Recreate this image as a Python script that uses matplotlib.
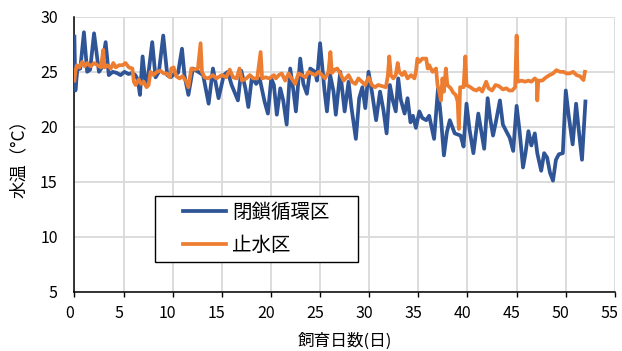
import matplotlib
matplotlib.use("Agg")
import matplotlib.pyplot as plt
from matplotlib.patches import Rectangle
from matplotlib.transforms import ScaledTranslation

plt.rcParams['font.family'] = ['Noto Sans CJK JP', 'DejaVu Sans']

# 閉鎖循環区: rearing day and water temperature (°C)
closed_days = [0.0, 0.1, 0.3, 0.6, 0.97, 1.3, 1.6, 2.0, 2.5, 2.8, 3.18, 3.5, 3.9, 4.3, 4.7,
               5.1, 5.5, 5.9, 6.2, 6.45, 6.67, 6.94, 7.25, 7.5, 7.92, 8.26, 8.6, 9.04, 9.45,
               9.8, 10.2, 10.55, 10.95, 11.2, 11.6, 12.06, 12.6, 13.1, 13.66, 14.1, 14.67,
               15.2, 15.6, 16.0, 16.64, 16.98, 17.4, 17.7, 18.06, 18.5, 18.85, 19.35, 19.69,
               20.03, 20.3, 20.6, 20.95, 21.25, 21.6, 21.96, 22.3, 22.54, 22.98, 23.3, 23.66,
               24.0, 24.5, 24.68, 25.0, 25.46, 25.7, 26.03, 26.37, 26.6, 27.05, 27.5, 27.9,
               28.2, 28.64, 28.98, 29.3, 29.6, 29.93, 30.27, 30.7, 31.1, 31.45, 31.77, 32.1,
               32.4, 32.7, 32.95, 33.2, 33.6, 33.9, 34.2, 34.45, 34.75, 35.1, 35.4, 35.8,
               36.1, 36.6, 37.0, 37.3, 37.6, 37.9, 38.2, 38.7, 39.0, 39.3, 39.6, 39.9, 40.2,
               40.6, 41.1, 41.4, 41.7, 42.05, 42.3, 42.6, 42.9, 43.3, 43.6, 44.0, 44.3,
               44.65, 45.0, 45.3, 45.65, 45.9, 46.2, 46.5, 46.85, 47.1, 47.5, 47.8, 48.1,
               48.4, 48.7, 49.0, 49.3, 49.7, 50.0, 50.3, 50.7, 51.05, 51.3, 51.65, 52.0]
closed_temp = [28.2, 23.3, 25.2, 25.3, 28.6, 25.0, 25.2, 28.5, 25.0, 25.4, 27.7, 24.7, 25.0, 24.9, 24.7,
               25.0, 24.8, 24.9, 24.7, 24.3, 22.9, 26.4, 23.8, 24.6, 27.7, 24.5, 25.0, 28.3, 24.7,
               24.5, 24.85, 24.9, 27.1, 24.7, 22.9, 25.3, 25.0, 24.7, 22.1, 25.3, 22.6,
               24.7, 25.0, 23.8, 22.4, 25.1, 23.5, 21.8, 24.5, 23.9, 24.4, 22.3, 21.2,
               24.4, 23.8, 21.1, 23.5, 22.4, 20.2, 25.3, 23.2, 21.4, 26.2, 23.9, 23.0,
               25.3, 25.0, 24.2, 27.6, 23.2, 21.4, 24.7, 23.2, 21.1, 25.0, 21.4, 24.1,
               21.7, 18.9, 22.6, 23.6, 21.7, 25.0, 23.2, 20.6, 23.2, 21.5, 19.4, 23.8,
               22.4, 21.4, 24.4, 22.5, 21.2, 22.6, 20.4, 21.0, 19.9, 21.4, 20.8, 20.6,
               21.0, 18.9, 23.5, 20.8, 17.4, 19.5, 20.6, 19.4, 19.3, 19.2, 18.2, 22.1, 19.8,
               17.6, 21.2, 19.6, 18.0, 22.6, 20.8, 19.2, 20.5, 22.4, 20.2, 19.5, 19.0,
               17.8, 21.9, 19.6, 16.3, 17.6, 19.6, 18.3, 19.4, 17.6, 16.0, 17.6, 17.2,
               15.8, 15.1, 17.0, 17.5, 17.6, 23.3, 21.0, 18.4, 22.1, 19.9, 17.0, 22.3]

# 止水区: rearing day and water temperature (°C)
still_days = [0.0, 0.1, 0.25, 0.5, 0.8, 1.05, 1.3, 1.65, 2.0, 2.35, 2.7, 2.94, 3.05, 3.35, 3.7,
              3.96, 4.2, 4.55, 4.9, 5.2, 5.55, 5.9, 6.05, 6.23, 6.55, 6.8, 7.05, 7.35, 7.55,
              7.75, 8.05, 8.4, 8.75, 9.1, 9.4, 9.72, 9.86, 10.1, 10.37, 10.7, 11.0, 11.4,
              11.6, 11.9, 12.2, 12.57, 12.84, 12.98, 13.25, 13.6, 14.1, 14.45, 15.0, 15.45,
              15.8, 16.15, 16.5, 16.8, 17.05, 17.5, 17.85, 18.2, 18.6, 18.95, 19.1, 19.45,
              19.85, 20.3, 20.5, 20.8, 21.1, 21.45, 21.8, 22.1, 22.47, 22.8, 23.15, 23.5,
              23.83, 24.15, 24.5, 24.85, 25.2, 25.5, 25.85, 26.05, 26.2, 26.5, 26.75, 27.05,
              27.4, 27.9, 28.25, 28.6, 28.9, 29.25, 29.6, 29.93, 30.27, 30.6, 30.9, 31.3,
              31.7, 31.9, 32.04, 32.2, 32.45, 32.7, 32.9, 33.05, 33.35, 33.6, 33.9, 34.25,
              34.6, 34.75, 34.9, 35.1, 35.4, 35.8, 35.95, 36.1, 36.45, 36.8, 36.95, 37.12,
              37.3, 37.45, 37.6, 37.8, 37.95, 38.3, 38.55, 38.8, 39.0, 39.12, 39.25, 39.6,
              39.78, 39.9, 40.3, 40.6, 40.9, 41.2, 41.5, 41.9, 42.15, 42.5, 42.85, 43.2,
              43.6, 43.95, 44.25, 44.55, 44.85, 45.0, 45.1, 45.5, 45.85, 46.2, 46.5, 46.85,
              47.05, 47.1, 47.2, 47.6, 48.0, 48.35, 48.7, 49.05, 49.4, 49.75, 50.1, 50.4,
              50.75, 51.1, 51.45, 51.8, 51.95]
still_temp = [24.2, 25.0, 25.6, 25.4, 25.9, 25.5, 25.8, 25.5, 25.8, 25.6, 25.4, 27.0, 25.4, 25.6, 25.3,
              25.8, 25.4, 25.6, 25.6, 25.8, 25.4, 25.3, 24.1, 23.8, 24.3, 23.9, 24.1, 23.6, 23.8,
              25.0, 24.7, 25.0, 25.1, 24.85, 24.85, 24.5, 25.3, 25.4, 24.6, 24.4, 24.6, 24.1,
              23.6, 25.3, 25.2, 25.3, 27.6, 25.0, 24.5, 24.4, 24.7, 24.4, 24.7, 24.5,
              25.2, 24.5, 24.4, 25.3, 24.2, 24.4, 24.7, 24.4, 24.4, 26.8, 24.4, 24.5,
              24.4, 24.7, 24.4, 24.7, 24.85, 24.2, 24.85, 24.4, 23.9, 24.85, 24.7, 24.5,
              25.0, 24.85, 24.7, 25.0, 24.7, 24.4, 25.0, 26.8, 24.9, 25.2, 25.3, 24.85,
              24.2, 24.7, 24.1, 23.9, 24.4, 24.1, 23.8, 24.5, 23.8, 23.6, 23.8, 23.7,
              23.6, 24.7, 26.4, 24.7, 24.4, 24.7, 25.8, 25.0, 24.7, 25.0, 24.4, 24.7,
              24.4, 25.0, 26.2, 25.9, 26.2, 26.2, 25.3, 25.6, 25.0, 25.3, 23.8, 23.2,
              22.4, 24.4, 23.2, 25.3, 23.8, 23.5, 23.1, 22.9, 22.3, 19.8, 23.6, 23.6,
              26.4, 23.8, 23.6, 23.4, 23.3, 23.5, 23.2, 24.1, 23.5, 23.3, 23.8, 23.7,
              23.4, 23.5, 23.3, 23.3, 23.6, 28.3, 24.1, 24.2, 24.1, 24.2, 24.1, 24.4,
              24.2, 22.4, 24.2, 24.2, 24.5, 24.7, 24.85, 25.15, 25.0, 25.0, 24.85, 24.85,
              25.0, 24.7, 24.6, 24.25, 25.0]

series_labels = ['閉鎖循環区', '止水区']
x_ticks = [0, 5, 10, 15, 20, 25, 30, 35, 40, 45, 50, 55]
y_ticks = [5, 10, 15, 20, 25, 30]

fig = plt.figure(figsize=(6.22, 3.51), dpi=100)
ax = fig.add_axes([0.1196, 0.169, 0.869, 0.783])

ax.plot(closed_days, closed_temp, color='#2F5597', lw=2.7, label=series_labels[0],
        zorder=3, solid_joinstyle='round')
ax.plot(still_days, still_temp, color='#ED7D31', lw=2.7, label=series_labels[1],
        zorder=4, solid_joinstyle='round')

ax.set_xlim(0, 55)
ax.set_ylim(5, 30)
ax.set_xticks(x_ticks)
ax.set_yticks(y_ticks)
ax.grid(True, color='#D9D9D9', lw=1.3, zorder=0)
ax.set_axisbelow(True)

for side in ('top', 'right'):
    ax.spines[side].set_visible(False)
for side in ('left', 'bottom'):
    ax.spines[side].set_color('black')
    ax.spines[side].set_linewidth(1.1)

ax.tick_params(axis='x', direction='out', length=3.5, width=1.0, pad=6, labelsize=11.5)
ax.tick_params(axis='y', length=0, pad=12, labelsize=11.5)

# x tick labels sit slightly left of their gridlines
shift = ScaledTranslation(-5 / 100, 0, fig.dpi_scale_trans)
for lbl in ax.get_xticklabels():
    lbl.set_transform(lbl.get_transform() + shift)

ax.set_xlabel('飼育日数(日)', fontsize=12, labelpad=8)
ax.set_ylabel('水温（°C）', fontsize=12.5, labelpad=9)

# legend box
box_w, box_h = 0.3755, 0.24
box_cx, box_cy = 0.337, 0.228
ax.add_patch(Rectangle((box_cx - box_w / 2, box_cy - box_h / 2), box_w, box_h,
                       transform=ax.transAxes, facecolor='white', edgecolor='black',
                       lw=1.0, zorder=5))
leg = ax.legend(loc='center', bbox_to_anchor=(box_cx, box_cy), fontsize=14,
                frameon=False, handlelength=2.2, handletextpad=0.3,
                labelspacing=0.62, borderpad=0, borderaxespad=0)
leg.set_zorder(6)

fig.savefig('out.png', dpi=100)
